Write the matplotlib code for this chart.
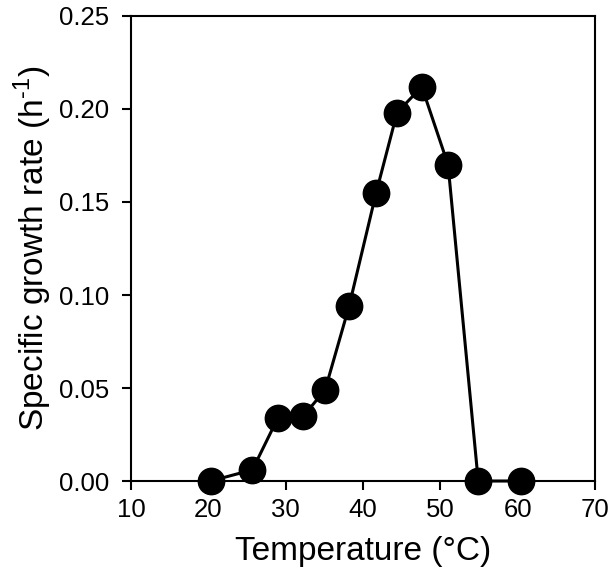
import matplotlib
matplotlib.use("Agg")
import matplotlib.pyplot as plt
from matplotlib.ticker import FormatStrFormatter

plt.rcParams['font.family'] = ['Liberation Sans', 'DejaVu Sans']
plt.rcParams['mathtext.fontset'] = 'custom'
plt.rcParams['mathtext.rm'] = 'Liberation Sans'

# data
temperature = [20.3, 25.7, 29.0, 32.3, 35.1, 38.2, 41.7, 44.4, 47.6, 51.0, 54.9, 60.4]
growth_rate = [0.0, 0.006, 0.034, 0.035, 0.049, 0.094, 0.155, 0.198, 0.212, 0.170, 0.0, 0.0]

x_ticks = [10, 20, 30, 40, 50, 60, 70]
y_ticks = [0.00, 0.05, 0.10, 0.15, 0.20, 0.25]

fig = plt.figure(figsize=(6.1, 5.71), dpi=100)
ax = fig.add_axes([0.2148, 0.1576, 0.7606, 0.8144])

ax.plot(temperature, growth_rate, '-o', color='black', lw=2.2,
        markersize=19, clip_on=False, zorder=3)

ax.set_xlim(10, 70)
ax.set_ylim(0, 0.25)
ax.set_xticks(x_ticks)
ax.set_yticks(y_ticks)
ax.yaxis.set_major_formatter(FormatStrFormatter('%.2f'))

for s in ax.spines.values():
    s.set_linewidth(1.5)
ax.tick_params(direction='out', length=6.5, width=1.5, labelsize=18.5)
ax.tick_params(axis='y', pad=9)
ax.tick_params(axis='x', pad=6)

ax.set_xlabel('Temperature (°C)', fontsize=24, labelpad=10)
ax.set_ylabel(r'Specific growth rate (h$^{\text{-}1}$)', fontsize=24, labelpad=4)

fig.savefig('out.png', dpi=100)
